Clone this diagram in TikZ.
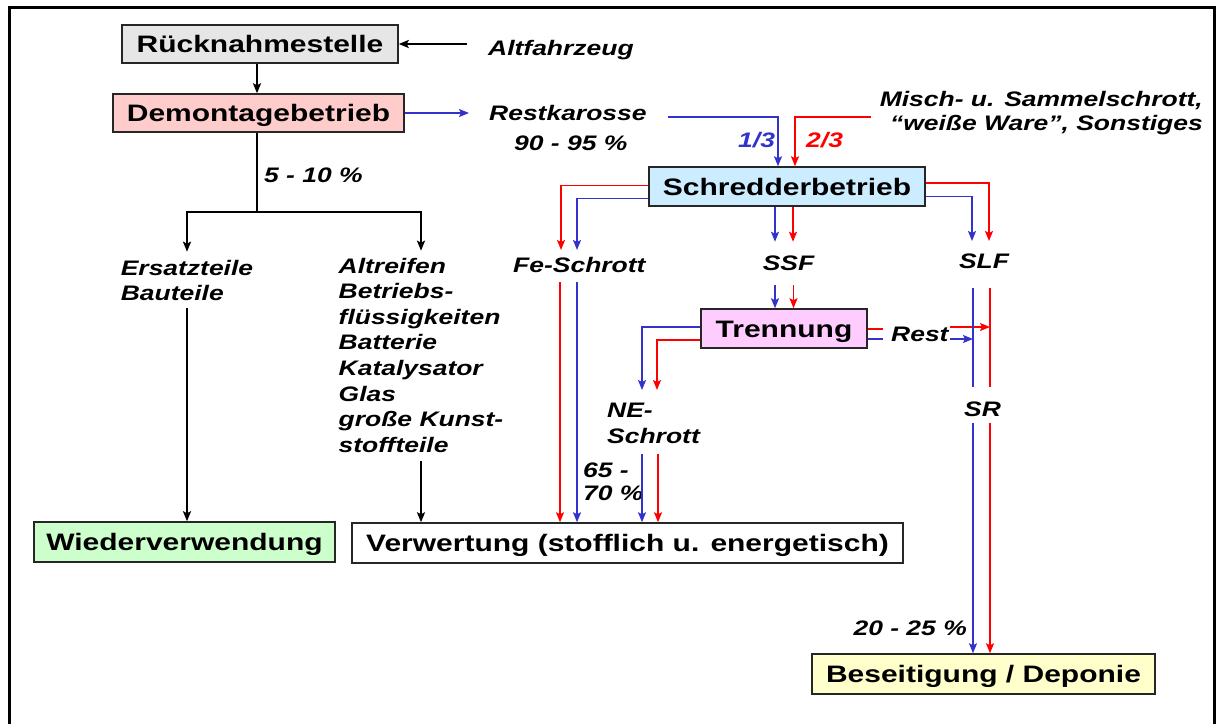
\documentclass[tikz,border=0pt]{standalone}
\usepackage{fontspec}
\setmainfont[FakeStretch=1.26]{Liberation Sans}
\usetikzlibrary{arrows.meta}

\definecolor{flowblue}{RGB}{51,51,204}
\definecolor{flowred}{RGB}{255,0,0}
\definecolor{fillgray}{RGB}{230,230,230}
\definecolor{fillpink}{RGB}{255,204,204}
\definecolor{fillblue}{RGB}{204,236,255}
\definecolor{fillviolet}{RGB}{255,204,255}
\definecolor{fillgreen}{RGB}{204,255,204}
\definecolor{fillyellow}{RGB}{255,255,204}

\begin{document}
\begin{tikzpicture}[x=1pt,y=-1pt,
  stage/.style={draw=black!85, line width=1.5pt, inner sep=0pt,
    text height=17pt, text depth=0pt,
    font=\fontsize{23.8}{28}\selectfont\bfseries},
  lbl/.style={inner sep=0pt, font=\fontsize{21}{25}\selectfont\bfseries\itshape},
  tip/.style={-{Stealth[length=10pt,width=8pt,inset=2pt]}},
  blk/.style={draw=black, line width=2pt, tip},
  blkline/.style={draw=black, line width=2pt},
  blu/.style={draw=flowblue, line width=1.6pt, tip},
  bluline/.style={draw=flowblue, line width=1.6pt},
  rd/.style={draw=flowred, line width=1.6pt, tip},
  rdline/.style={draw=flowred, line width=1.6pt},
]
\useasboundingbox (0,0) rectangle (1218,724);

% outer frame, open at the bottom
\draw[line width=3pt] (9,724) -- (9,7) -- (1214,7) -- (1214,724);

% ---------- stages ----------
\node[stage, fill=fillgray,   minimum width=276, minimum height=38] (rueck)  at (260,44)    {Rücknahmestelle};
\node[stage, fill=fillpink,   minimum width=291, minimum height=38] (demont) at (258.5,113) {Demontagebetrieb};
\node[stage, fill=fillblue,   minimum width=276, minimum height=39] (schred) at (787,186.5) {Schredderbetrieb};
\node[stage, fill=fillviolet, minimum width=166, minimum height=39] (trenn)  at (784,328.5) {Trennung};
\node[stage, fill=fillgreen,  minimum width=301, minimum height=40] (wieder) at (184.5,542) {Wiederverwendung};
\node[stage, fill=white,      minimum width=551, minimum height=40] (verw)   at (627.5,543) {Verwertung (stofflich u. energetisch)};
\node[stage, fill=fillyellow, minimum width=343, minimum height=40] (besei)  at (983.5,674) {Beseitigung / Deponie};

% ---------- labels ----------
\node[lbl, anchor=base west] (alt)   at (488,55.5) {Altfahrzeug};
\node[lbl, anchor=base west] (rest)  at (489,120)  {Restkarosse};
\node[lbl, anchor=base west] (pctA)  at (514,150)  {90 - 95 \%};
\node[lbl, anchor=base west] (pctB)  at (264,182)  {5 - 10 \%};
\node[lbl, anchor=base west, text=flowblue] (thirdB) at (738,147) {1/3};
\node[lbl, anchor=base west, text=flowred]  (thirdR) at (806,147) {2/3};
\node[lbl, anchor=north east, align=right, font=\fontsize{21}{24}\selectfont\bfseries\itshape]
  (misch) at (1203,90.7) {Misch- u. Sammelschrott,\\“weiße Ware”, Sonstiges};
\node[lbl, anchor=north, align=left] (ersatz) at (187,259.7) {Ersatzteile\\Bauteile};
\node[lbl, anchor=north, align=left, font=\fontsize{21}{25.6}\selectfont\bfseries\itshape]
  (altr) at (421,257.7) {Altreifen\\Betriebs-\\flüssigkeiten\\Batterie\\Katalysator\\Glas\\große Kunst-\\stoffteile};
\node[lbl, anchor=base west] (fe)  at (513,272)   {Fe-Schrott};
\node[lbl, anchor=base]      (ssf) at (788.5,270) {SSF};
\node[lbl, anchor=base]      (slf) at (984,268)   {SLF};
\node[lbl, anchor=north west, align=left, font=\fontsize{21}{26}\selectfont\bfseries\itshape]
  (ne) at (607,403) {NE-\\Schrott};
\node[lbl, anchor=base west] (restl) at (891,341) {Rest};
\node[lbl, anchor=base]      (sr)    at (982.5,416) {SR};
\node[lbl, anchor=north west, align=left, font=\fontsize{21}{23}\selectfont\bfseries\itshape]
  (pctC) at (583,463) {65 -\\70 \%};
\node[lbl, anchor=base east] (pctD) at (967,635) {20 - 25 \%};

% ---------- helper points ----------
\coordinate (altin)  at (467,44);
\coordinate (fork)   at (257,212);
\coordinate (restin) at (469,113);
\coordinate (bstart) at (668,117);
\coordinate (rstart) at (871,117);
\coordinate (feR)    at (561,250);
\coordinate (feB)    at (577,250);
\coordinate (slfB)   at (972,241);
\coordinate (slfR)   at (989,241);
\coordinate (ssfB)   at (775,285);
\coordinate (ssfR)   at (793.5,285);
\coordinate (neB)    at (642,390);
\coordinate (neR)    at (657,390);
\coordinate (stubR)  at (883,329);
\coordinate (stubB)  at (883,339);
\coordinate (restR)  at (950,327);
\coordinate (restB)  at (950,339);
\coordinate (srB)    at (973,288);
\coordinate (srR)    at (990,288);
\coordinate (srBend) at (973,387);
\coordinate (srRend) at (990,387);
\coordinate (srBlo)  at (973,423);
\coordinate (srRlo)  at (990,423);
\coordinate (feRlo)  at (560,282);
\coordinate (feBlo)  at (577,282);
\coordinate (neBlo)  at (642,454);
\coordinate (neRlo)  at (658,454);

% ---------- black flows ----------
\draw[blk] (altin) -- (rueck.east);
\draw[blk] (rueck.south -| fork) -- (demont.north -| fork);
\draw[blkline] (demont.south -| fork) -- (fork);
\draw[blk] (fork) -| ([yshift=8pt]ersatz.north);
\draw[blk] (fork) -| ([yshift=7pt]altr.north);
\draw[blk] ([yshift=-7pt]ersatz.south) -- (ersatz.south |- wieder.north);
\draw[blk] ([yshift=-8pt]altr.south) -- (altr.south |- verw.north);

% ---------- blue / red flows ----------
\draw[blu] (demont.east) -- (demont.east -| restin);
\draw[blu] (bstart) -| ([xshift=-9pt]schred.north);
\draw[rd]  (rstart) -| ([xshift=8pt]schred.north);

\draw[rd]  ([yshift=1pt]schred.west)   -| (feR);
\draw[blu] ([yshift=-12pt]schred.west) -| (feB);
\draw[rd]  ([yshift=3.5pt]schred.east) -| (slfR);
\draw[blu] ([yshift=-10pt]schred.east) -| (slfB);
\draw[blu] ([xshift=-12pt]schred.south) -- ++(0,35);
\draw[rd]  ([xshift=6pt]schred.south)   -- ++(0,35);

\draw[blu] (ssfB) -- (ssfB |- trenn.north);
\draw[rd]  (ssfR) -- (ssfR |- trenn.north);

\draw[blu] ([yshift=1.5pt]trenn.west)   -| (neB);
\draw[rd]  ([yshift=-11.5pt]trenn.west) -| (neR);
\draw[rdline]  ([yshift=-0.5pt]trenn.east)  -- (stubR);
\draw[bluline] ([yshift=-10.5pt]trenn.east) -- (stubB);
\draw[rd]  (restR) -- (srRend |- restR);
\draw[blu] (restB) -- (srBend |- restB);

\draw[bluline] (srB) -- (srBend);
\draw[rdline]  (srR) -- (srRend);
\draw[blu] (srBlo) -- (srBlo |- besei.north);
\draw[rd]  (srRlo) -- (srRlo |- besei.north);

\draw[rd]  (feRlo) -- (feRlo |- verw.north);
\draw[blu] (feBlo) -- (feBlo |- verw.north);
\draw[blu] (neBlo) -- (neBlo |- verw.north);
\draw[rd]  (neRlo) -- (neRlo |- verw.north);
\end{tikzpicture}
\end{document}
